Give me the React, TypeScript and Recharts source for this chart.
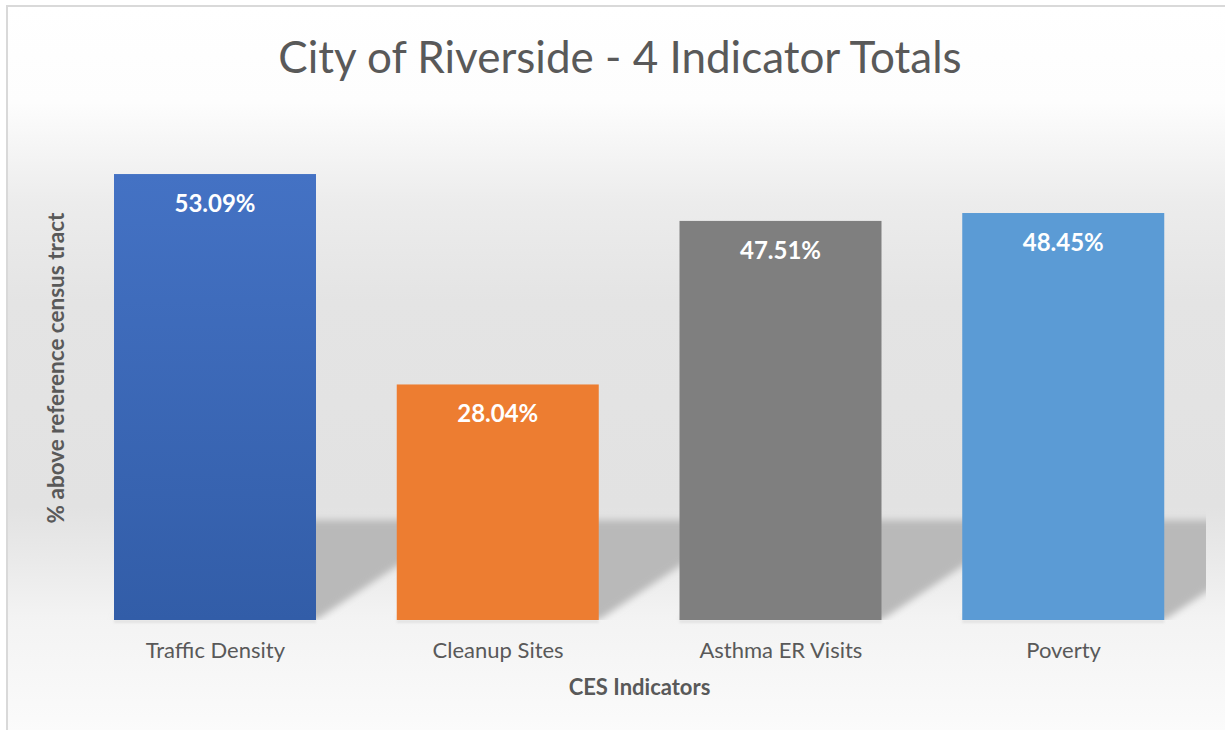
import React from 'react';
import { BarChart, Bar, XAxis, YAxis, LabelList } from 'recharts';

const categories = ['Traffic Density', 'Cleanup Sites', 'Asthma ER Visits', 'Poverty'];
const values = [53.09, 28.04, 47.51, 48.45];
const valueLabels = ['53.09%', '28.04%', '47.51%', '48.45%'];
const barTopColors = ['#4472c4', '#ed7d31', '#7f7f7f', '#5b9bd5'];
const barBottomColors = ['#325da8', '#ed7d31', '#7f7f7f', '#5b9bd5'];
const yDomain: [number, number] = [0, 60];

const TITLE = 'City of Riverside - 4 Indicator Totals';
const X_TITLE = 'CES Indicators';
const Y_TITLE = '% above reference census tract';

const data = categories.map((name, i) => ({ name, value: values[i], label: valueLabels[i] }));

const W = 1225;
const H = 730;
const MARGIN = { top: 116, right: 20, bottom: 0, left: 0 };
const Y_AXIS_W = 74;
const X_AXIS_H = 110;
const PLOT_LEFT = MARGIN.left + Y_AXIS_W;
const PLOT_RIGHT = W - MARGIN.right;
const PLOT_TOP = MARGIN.top;
const PLOT_BOTTOM = H - MARGIN.bottom - X_AXIS_H;

const FONT = 'Lato, "Open Sans", sans-serif';
const TEXT = '#595959';

const SHADOW_H = 100;
const SHADOW_DX = 150;

const BarShape = (props: any) => {
  const { x, y, width, height, index } = props;
  const base = y + height;
  const pts = `${x},${base} ${x + width},${base} ${x + width + SHADOW_DX},${base - SHADOW_H} ${x + SHADOW_DX},${base - SHADOW_H}`;
  return (
    <g>
      <g clipPath="url(#plotClip)">
        <polygon points={pts} fill="#b9b9b9" filter="url(#shadowBlur)" />
      </g>
      <rect x={x} y={base} width={width} height={3} fill="#e2e2e2" filter="url(#softBlur)" />
      <rect x={x} y={y} width={width} height={height} fill={`url(#barGrad${index})`} />
    </g>
  );
};

const ValueLabel = (props: any) => {
  const { x, y, width, value } = props;
  return (
    <text x={x + width / 2} y={y + 38} textAnchor="middle" fill="#ffffff" fontSize={24} fontWeight={700} fontFamily={FONT}>
      {value}
    </text>
  );
};

const CategoryTick = (props: any) => {
  const { x, y, payload } = props;
  return (
    <text x={x} y={y + 38} textAnchor="middle" fill={TEXT} fontSize={22} fontFamily={FONT}>
      {payload.value}
    </text>
  );
};

const XTitle = (props: any) => {
  const vb = props.viewBox || {};
  return (
    <text x={vb.x + vb.width / 2} y={vb.y + 75} textAnchor="middle" fill={TEXT} fontSize={22} fontWeight={700} fontFamily={FONT}>
      {X_TITLE}
    </text>
  );
};

const YTitle = (props: any) => {
  const vb = props.viewBox || {};
  const cx = vb.x + 64;
  const cy = vb.y + vb.height / 2;
  return (
    <text x={cx} y={cy} transform={`rotate(-90 ${cx} ${cy})`} textAnchor="middle" fill={TEXT} fontSize={22.5} fontWeight={700} fontFamily={FONT}>
      {Y_TITLE}
    </text>
  );
};

export default function App() {
  return (
    <div style={{ position: 'absolute', left: 0, top: 0, width: W, height: H, overflow: 'hidden', background: '#ffffff' }}>
      <div
        style={{
          position: 'absolute',
          left: 6,
          top: 5,
          width: W - 8,
          height: H - 7,
          borderLeft: '2px solid #d9d9d9',
          borderTop: '2px solid #d9d9d9',
          background:
            'linear-gradient(to bottom, #ffffff 0px, #fdfdfd 95px, #ececec 195px, #e4e4e4 295px, #e2e2e2 500px, #eaeaea 555px, #f3f3f3 610px, #fbfbfb 725px)',
        }}
      />
      <div style={{ position: 'absolute', left: 0, top: 0 }}>
        <BarChart width={W} height={H} data={data} margin={MARGIN} barSize={202} style={{ outline: 'none' }}>
          <defs>
            {barTopColors.map((c, i) => (
              <linearGradient key={i} id={`barGrad${i}`} x1="0" y1="0" x2="0" y2="1">
                <stop offset="0%" stopColor={c} />
                <stop offset="100%" stopColor={barBottomColors[i]} />
              </linearGradient>
            ))}
            <clipPath id="plotClip">
              <rect x={PLOT_LEFT} y={PLOT_TOP} width={PLOT_RIGHT - PLOT_LEFT + 1} height={PLOT_BOTTOM - PLOT_TOP} />
            </clipPath>
            <filter id="shadowBlur" x="-20%" y="-20%" width="140%" height="140%">
              <feGaussianBlur stdDeviation="3.5" />
            </filter>
            <filter id="softBlur" x="-5%" y="-100%" width="110%" height="300%">
              <feGaussianBlur stdDeviation="1" />
            </filter>
          </defs>
          <text x={620} y={73} textAnchor="middle" fill={TEXT} fontSize={44} fontFamily={FONT}>
            {TITLE}
          </text>
          <XAxis
            dataKey="name"
            height={X_AXIS_H}
            axisLine={false}
            tickLine={false}
            tickSize={0}
            tickMargin={0}
            tick={<CategoryTick />}
            interval={0}
            label={<XTitle />}
          />
          <YAxis
            domain={yDomain}
            width={Y_AXIS_W}
            tick={false}
            axisLine={false}
            tickLine={false}
            label={<YTitle />}
          />
          <Bar dataKey="value" shape={<BarShape />} isAnimationActive={false}>
            <LabelList dataKey="label" content={<ValueLabel />} />
          </Bar>
        </BarChart>
      </div>
    </div>
  );
}
